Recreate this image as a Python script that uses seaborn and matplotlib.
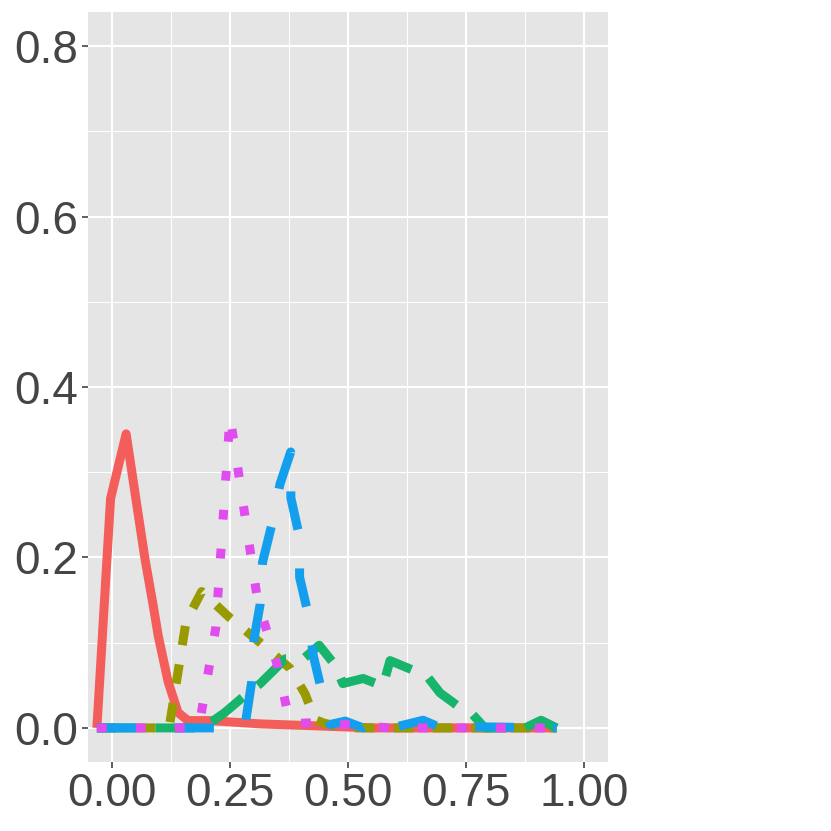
import matplotlib
matplotlib.use("Agg")
import matplotlib.pyplot as plt
import seaborn as sns
import pandas as pd
from matplotlib.ticker import FixedLocator

# ---- data ----
red_x = [-0.032, -0.003, 0.030, 0.056, 0.070, 0.0875, 0.098, 0.119, 0.140, 0.161, 0.208, 0.314, 0.419, 0.55, 0.942]
red_y = [0.0, 0.269, 0.345, 0.249, 0.198, 0.143, 0.108, 0.054, 0.018, 0.0086, 0.0086, 0.0047, 0.0027, 0.0, 0.0]

olive_x = [-0.032, 0.121, 0.157, 0.190, 0.248, 0.314, 0.377, 0.409, 0.430, 0.447, 0.490, 0.942]
olive_y = [0.0, 0.0, 0.125, 0.160, 0.130, 0.100, 0.070, 0.040, 0.010, 0.006, 0.0, 0.0]

green_x = [-0.032, 0.193, 0.239, 0.275, 0.314, 0.367, 0.405, 0.439, 0.472, 0.489, 0.532, 0.574,
           0.589, 0.667, 0.695, 0.737, 0.762, 0.790, 0.875, 0.909, 0.942]
green_y = [0.0, 0.0, 0.018, 0.035, 0.052, 0.081, 0.081, 0.097, 0.074, 0.052, 0.058, 0.049,
           0.079, 0.061, 0.041, 0.024, 0.017, 0.0, 0.0, 0.009, 0.0]

blue_x = [-0.032, 0.281, 0.284, 0.296, 0.301, 0.314, 0.319, 0.338, 0.356, 0.3786, 0.3790, 0.397,
          0.3975, 0.416, 0.4265, 0.444, 0.462, 0.494, 0.532, 0.559, 0.593, 0.659, 0.689, 0.942]
blue_y = [0.0, 0.0, 0.0106, 0.0543, 0.1044, 0.1455, 0.1944, 0.2373, 0.2862, 0.3238, 0.2698, 0.2249,
          0.1768, 0.1326, 0.0848, 0.0438, 0.004, 0.008, 0.0, 0.009, 0.0, 0.009, 0.002, 0.0]

pink_x = [-0.032, 0.184, 0.2197, 0.250, 0.3087, 0.3517, 0.377, 0.4258, 0.5064, 0.589, 0.942]
pink_y = [0.0, 0.0, 0.117, 0.366, 0.149, 0.071, 0.005, 0.006, 0.0035, 0.0, 0.0]

groups = ["1", "2", "3", "4", "5"]
colors = ["#F35E5A", "#989A00", "#17B46C", "#149FEE", "#E04CEE"]
x_ticks = [0.0, 0.25, 0.5, 0.75, 1.0]
x_tick_labels = ["0.00", "0.25", "0.50", "0.75", "1.00"]
y_ticks = [0.0, 0.2, 0.4, 0.6, 0.8]
y_tick_labels = ["0.0", "0.2", "0.4", "0.6", "0.8"]

series = [(red_x, red_y), (olive_x, olive_y), (green_x, green_y), (blue_x, blue_y), (pink_x, pink_y)]
frames = []
for g, (xs, ys) in zip(groups, series):
    frames.append(pd.DataFrame({"x": xs, "y": ys, "group": g}))
df = pd.concat(frames, ignore_index=True)

# ---- style ----
plt.rcParams["lines.scale_dashes"] = False
DPI = 100
unit = 9.75 * 72 / DPI   # dash unit in points
dash_map = {
    "1": "",
    "2": (2 * unit, 2 * unit),
    "3": (4 * unit, 2 * unit),
    "4": (4 * unit, 4 * unit),
    "5": (1 * unit, 3 * unit),
}

fig = plt.figure(figsize=(8.31, 8.31), dpi=DPI)
ax = fig.add_axes([88 / 831, 1 - 762 / 831, (608 - 88) / 831, (762 - 12) / 831])
ax.set_facecolor("#E5E5E5")

sns.lineplot(data=df, x="x", y="y", hue="group", style="group",
             hue_order=groups, style_order=groups,
             palette=dict(zip(groups, colors)), dashes=dash_map,
             estimator=None, sort=False, linewidth=9 * 72 / DPI,
             solid_capstyle="butt", dash_capstyle="butt",
             legend=False, ax=ax, zorder=3)

ax.set_xlim(-0.0508, 1.0508)
ax.set_ylim(-0.04, 0.84)
ax.xaxis.set_major_locator(FixedLocator(x_ticks))
ax.yaxis.set_major_locator(FixedLocator(y_ticks))
ax.set_xticklabels(x_tick_labels)
ax.set_yticklabels(y_tick_labels)
ax.xaxis.set_minor_locator(FixedLocator([0.125, 0.375, 0.625, 0.875]))
ax.yaxis.set_minor_locator(FixedLocator([0.1, 0.3, 0.5, 0.7]))
ax.grid(which="major", color="white", linewidth=1.5)
ax.grid(which="minor", color="white", linewidth=0.75)
ax.set_axisbelow(True)
for s in ax.spines.values():
    s.set_visible(False)
ax.tick_params(which="major", length=4, width=1.1, color="#333333", pad=3,
               labelsize=33, labelcolor="#454545")
ax.tick_params(which="minor", length=0)
for lab in ax.get_xticklabels() + ax.get_yticklabels():
    lab.set_fontfamily(["Liberation Sans", "DejaVu Sans"])
ax.set_xlabel("")
ax.set_ylabel("")

fig.savefig("out.png", dpi=DPI, facecolor="white")
